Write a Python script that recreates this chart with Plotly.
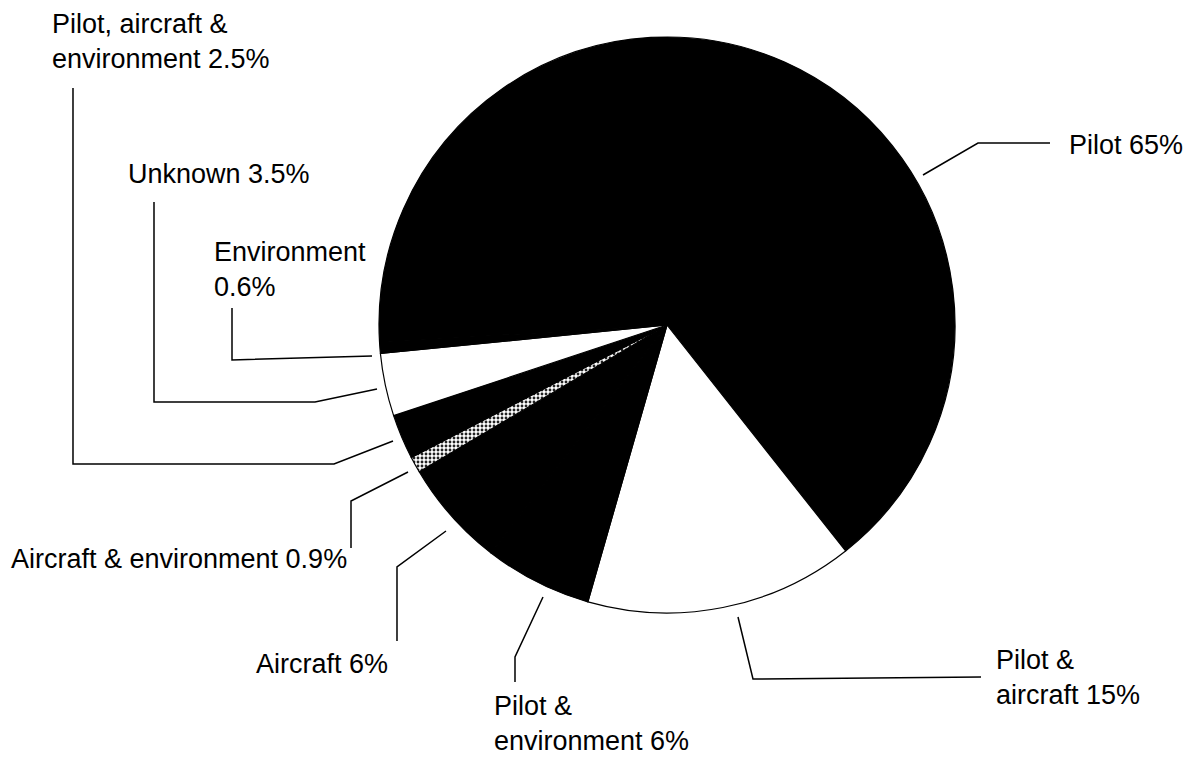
import plotly.graph_objects as go

# ---- data (clockwise order, starting with "Pilot") ----
categories = [
    "Pilot",
    "Pilot & aircraft",
    "Pilot & environment",
    "Aircraft",
    "Aircraft & environment",
    "Pilot, aircraft & environment",
    "Unknown",
    "Environment",
]
percentages = [65, 15, 6, 6, 0.9, 2.5, 3.5, 0.6]
label_texts = [
    "Pilot 65%",
    "Pilot &<br>aircraft 15%",
    "Pilot &<br>environment 6%",
    "Aircraft 6%",
    "Aircraft & environment 0.9%",
    "Pilot, aircraft &<br>environment 2.5%",
    "Unknown 3.5%",
    "Environment<br>0.6%",
]

# ---- styling ----
W, H = 1190, 757
slice_colors = ["black", "white", "black", "black", "#d0d0d0", "black", "white", "black"]
slice_patterns = ["", "", "", "", ".", "", "", ""]
FONT = dict(family="Liberation Sans, Arial, sans-serif", size=27, color="black")

# pie circle placement in pixels (center 667,325 radius 288)
pie_px = dict(x0=379, x1=955, y0=37, y1=613)

# label placement (pixel: left x, vertical middle y)
label_pos = [
    (1067, 145),
    (994, 677),
    (492, 723),
    (254, 664),
    (9, 559),
    (50, 41),
    (126, 174),
    (212, 269),
]

# leader lines (pixel polylines), one per label
leaders = [
    [(923, 175), (978, 143), (1050, 143)],
    [(738, 617), (753, 679), (981, 677)],
    [(543, 597), (515, 657), (515, 682)],
    [(446, 531), (397, 567), (397, 641)],
    [(408, 472), (351, 501), (351, 548)],
    [(393, 441), (334, 464), (73, 464), (73, 88)],
    [(377, 389), (315, 402), (154, 402), (154, 202)],
    [(372, 356), (232, 360), (232, 308)],
]


def px(x):
    return x / W


def py(y):
    return 1 - y / H


fig = go.Figure()
fig.add_trace(
    go.Pie(
        labels=categories,
        values=percentages,
        sort=False,
        direction="clockwise",
        rotation=-93.5,
        textinfo="none",
        hoverinfo="label+value",
        marker=dict(
            colors=slice_colors,
            line=dict(color="black", width=1.2),
            pattern=dict(shape=slice_patterns, fgcolor="#222222", size=4, solidity=0.4),
        ),
        domain=dict(
            x=[px(pie_px["x0"]), px(pie_px["x1"])],
            y=[py(pie_px["y1"]), py(pie_px["y0"])],
        ),
        showlegend=False,
    )
)

shapes = []
for pts in leaders:
    path = "M " + " L ".join(f"{px(x):.5f},{py(y):.5f}" for x, y in pts)
    shapes.append(
        dict(type="path", xref="paper", yref="paper", path=path,
             line=dict(color="black", width=1.5))
    )

annotations = []
for text, (lx, ly) in zip(label_texts, label_pos):
    annotations.append(
        dict(text=text, x=px(lx), y=py(ly), xref="paper", yref="paper",
             xanchor="left", yanchor="middle", align="left",
             showarrow=False, font=FONT)
    )

fig.update_layout(
    width=W,
    height=H,
    margin=dict(l=0, r=0, t=0, b=0),
    paper_bgcolor="white",
    plot_bgcolor="white",
    shapes=shapes,
    annotations=annotations,
    showlegend=False,
)

fig.write_html(
    "out.html",
    config={"displayModeBar": False},
    post_script="document.body.style.margin='0';document.body.style.overflow='hidden';",
)
